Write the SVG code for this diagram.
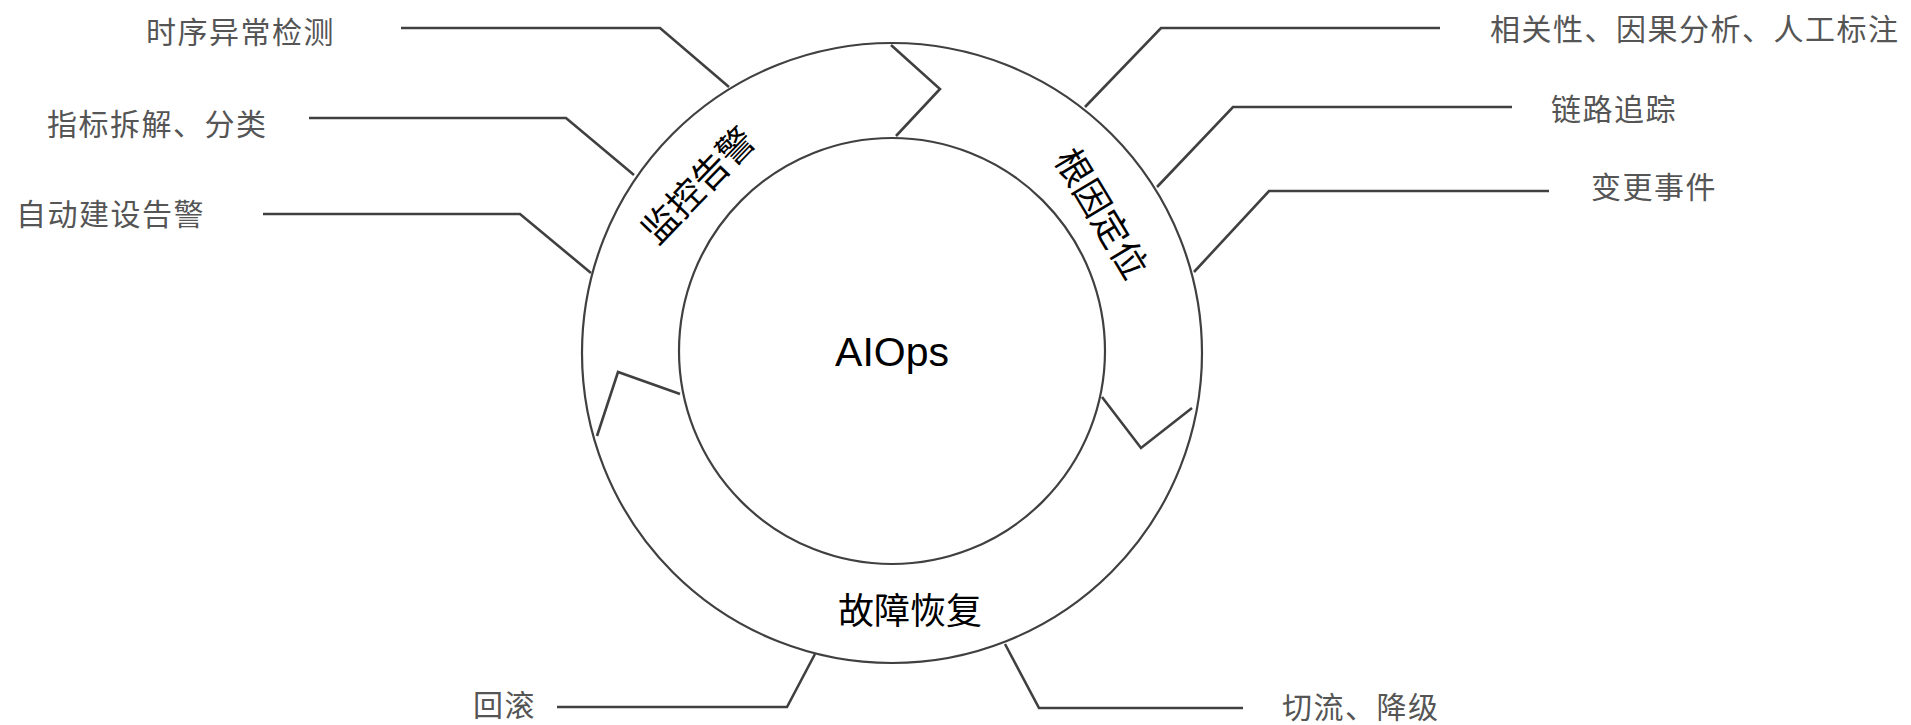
<svg xmlns="http://www.w3.org/2000/svg" width="1911" height="725" viewBox="0 0 1911 725">
<style>
.ring{fill:none;stroke:#404040;stroke-width:2.2}
.chev{fill:none;stroke:#404040;stroke-width:2.6;stroke-linejoin:miter}
.lead{fill:none;stroke:#404040;stroke-width:2.6}
.lbl{font-family:"Noto Sans CJK SC","Noto Sans",sans-serif;font-size:30px;fill:#555555;letter-spacing:1.5px}
.stage{font-family:"Noto Sans CJK SC","Noto Sans",sans-serif;font-size:36px;fill:#000000}
.core{font-family:"Liberation Sans","Noto Sans",sans-serif;font-size:41px;fill:#000000}
</style>
<rect width="1911" height="725" fill="#ffffff"/>
<g id="ring">
<circle class="ring" cx="892" cy="353" r="310"/>
<circle class="ring" cx="892" cy="351" r="213"/>
<polyline class="chev" points="891,45 940,89 896,136"/>
<polyline class="chev" points="1102,397 1141,448 1192,408"/>
<polyline class="chev" points="680,394 618,372 597,436"/>
</g>
<g id="node-aiops"><text class="core" x="892" y="366" text-anchor="middle">AIOps</text></g>
<g id="node-monitor"><text class="stage" x="0" y="0" text-anchor="middle" dominant-baseline="central" transform="translate(696,183) rotate(-46)">监控告警</text></g>
<g id="node-rootcause"><text class="stage" x="0" y="0" text-anchor="middle" dominant-baseline="central" transform="translate(1104,212) rotate(59)">根因定位</text></g>
<g id="node-recovery"><text class="stage" x="910" y="624" text-anchor="middle">故障恢复</text></g>
<g id="connectors">
<polyline class="lead" points="401,28 660,28 729,87"/>
<polyline class="lead" points="309,118 566,118 634,175"/>
<polyline class="lead" points="263,214 520,214 591,273"/>
<polyline class="lead" points="1440,28 1161,28 1085,107"/>
<polyline class="lead" points="1512,107 1233,107 1157,187"/>
<polyline class="lead" points="1549,191 1269,191 1194,272"/>
<polyline class="lead" points="557,707 787,707 815,654"/>
<polyline class="lead" points="1243,708 1039,708 1005,644"/>
</g>
<g id="node-l1"><text class="lbl" x="146" y="43">时序异常检测</text></g>
<g id="node-l2"><text class="lbl" x="47" y="135">指标拆解、分类</text></g>
<g id="node-l3"><text class="lbl" x="16" y="225">自动建设告警</text></g>
<g id="node-r1"><text class="lbl" x="1490" y="40">相关性、因果分析、人工标注</text></g>
<g id="node-r2"><text class="lbl" x="1551" y="120">链路追踪</text></g>
<g id="node-r3"><text class="lbl" x="1591" y="198">变更事件</text></g>
<g id="node-b1"><text class="lbl" x="473" y="716">回滚</text></g>
<g id="node-b2"><text class="lbl" x="1282" y="718">切流、降级</text></g>
</svg>
